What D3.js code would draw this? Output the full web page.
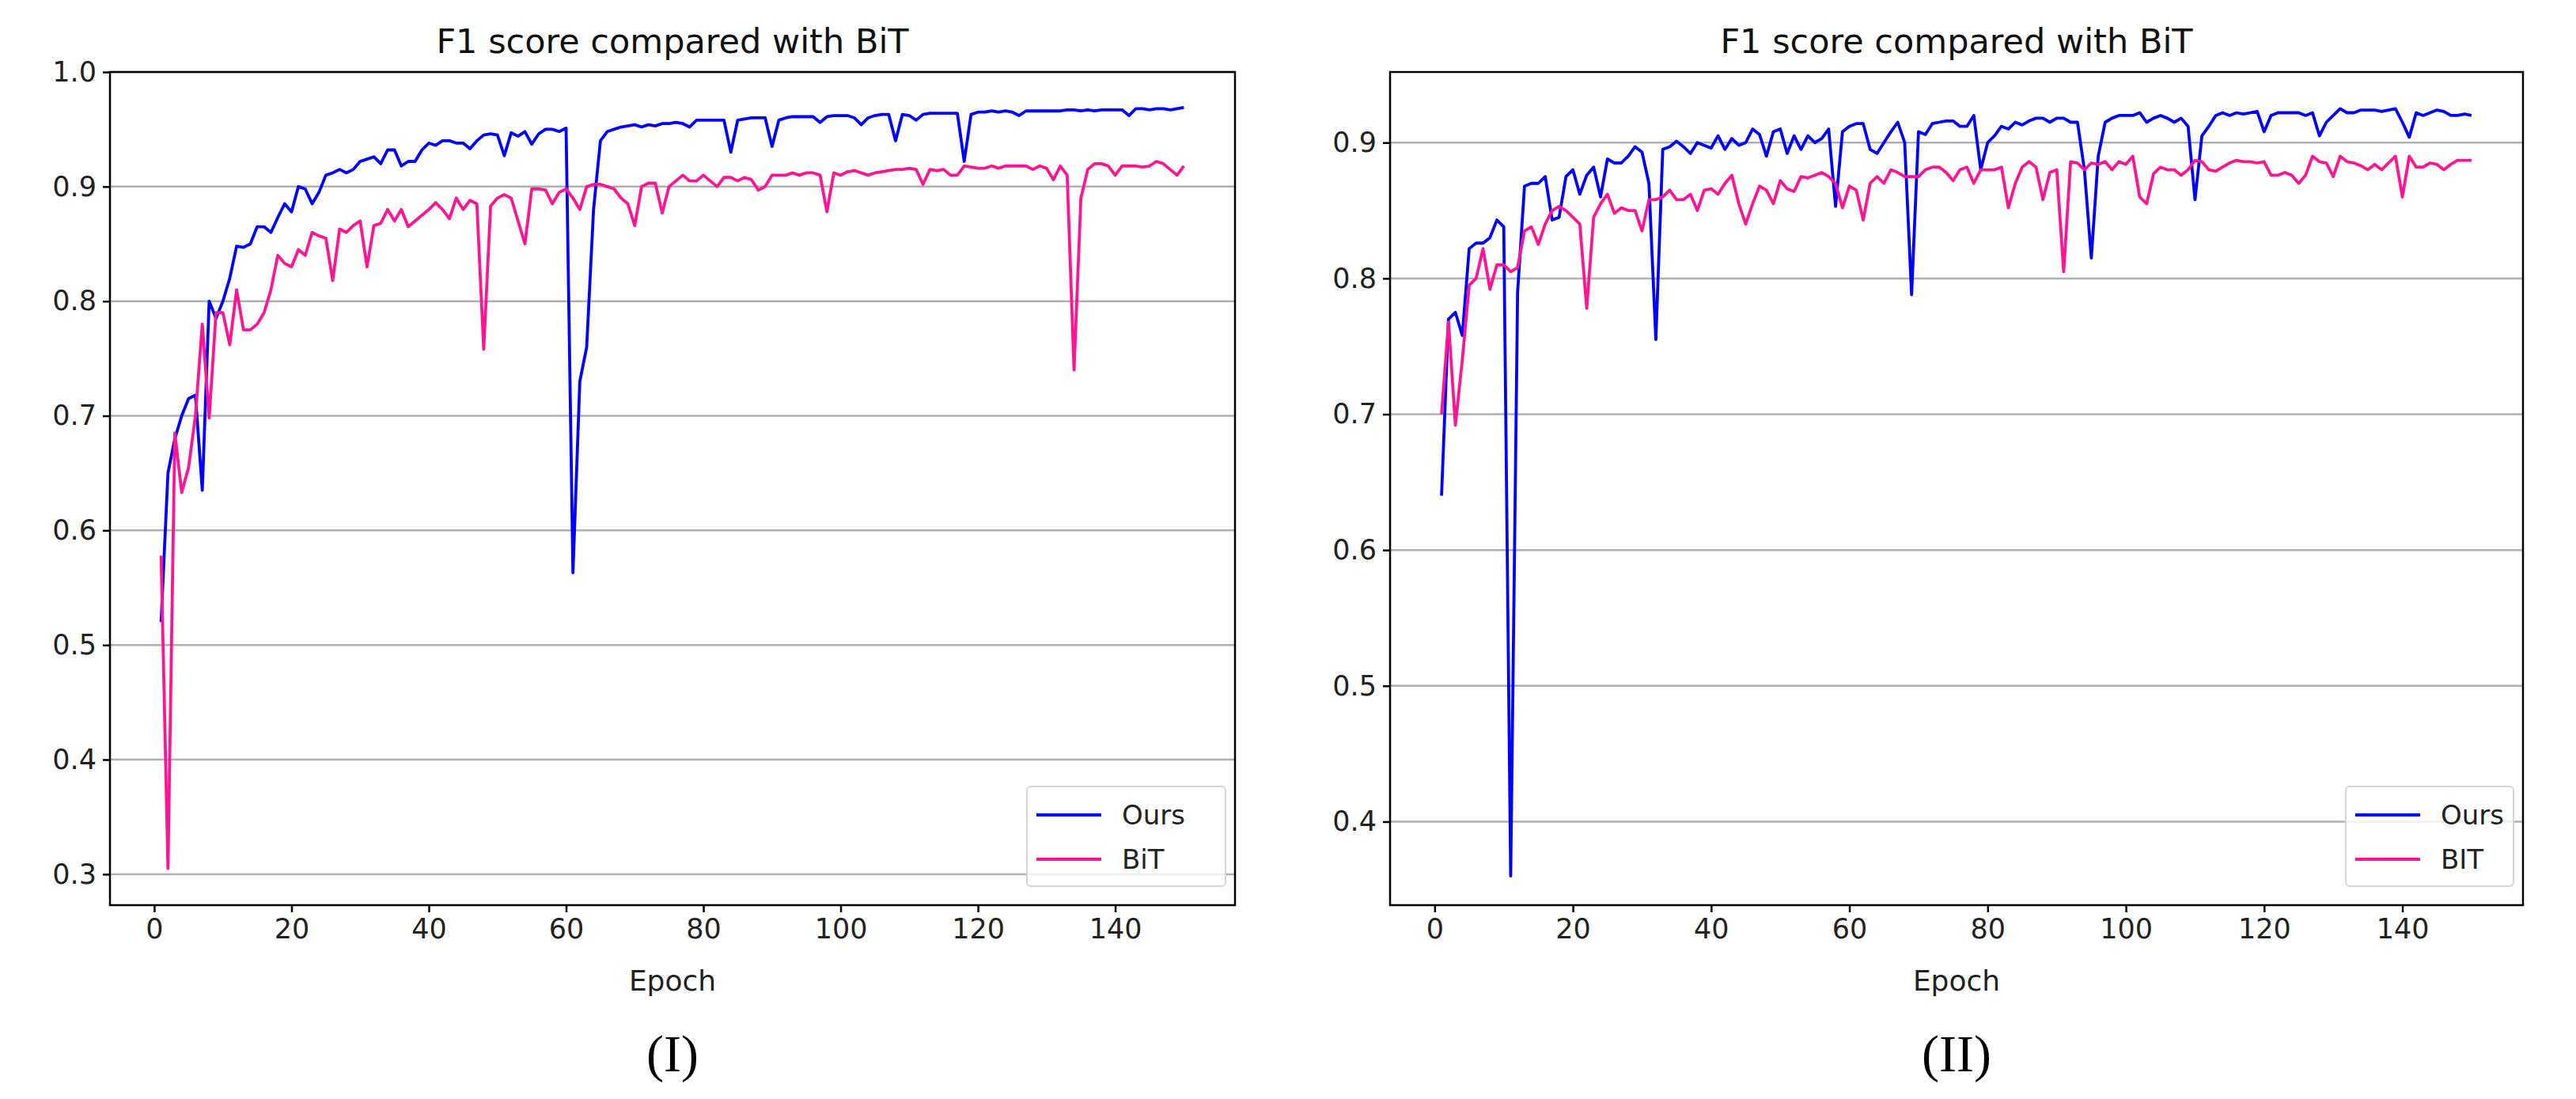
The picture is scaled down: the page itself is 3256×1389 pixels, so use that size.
<!DOCTYPE html>
<html><head><meta charset="utf-8">
<script src="https://cdn.jsdelivr.net/npm/d3@7"></script>
<style>body{margin:0;background:#fff}</style>
</head><body><svg id="c" width="3256" height="1389" font-family="DejaVu Sans"></svg>
<script>
const leftOurs=[.52,.65,.68,.70,.715,.718,.635,.80,.785,.80,.82,.848,.847,.85,.865,.865,.86,.873,.885,.878,.90,.898,.885,.895,.91,.912,.915,.912,.915,.922,.924,.926,.92,.932,.932,.918,.922,.922,.932,.938,.936,.94,.94,.938,.938,.933,.94,.945,.946,.945,.927,.947,.944,.948,.937,.946,.95,.95,.948,.951,.563,.73,.76,.88,.94,.948,.95,.952,.953,.954,.952,.954,.953,.955,.955,.956,.955,.952,.958,.958,.958,.958,.958,.93,.958,.959,.96,.96,.96,.935,.958,.96,.961,.961,.961,.961,.956,.961,.962,.962,.962,.96,.954,.96,.962,.963,.963,.94,.963,.962,.958,.963,.964,.964,.964,.964,.964,.922,.963,.965,.965,.966,.965,.966,.965,.962,.966,.966,.966,.966,.966,.966,.967,.967,.966,.967,.966,.967,.967,.967,.967,.962,.968,.968,.967,.968,.968,.967,.968,.969];
const leftBiT=[.578,.305,.685,.633,.655,.70,.78,.698,.79,.79,.762,.81,.775,.775,.78,.79,.81,.84,.833,.83,.845,.84,.86,.857,.855,.818,.863,.86,.866,.87,.83,.866,.868,.88,.87,.88,.865,.87,.875,.88,.886,.88,.872,.89,.88,.888,.885,.758,.883,.89,.893,.89,.87,.85,.898,.898,.897,.885,.895,.898,.89,.88,.9,.902,.902,.9,.898,.89,.885,.866,.9,.903,.903,.877,.9,.905,.91,.905,.905,.91,.905,.9,.908,.908,.905,.908,.906,.897,.9,.91,.91,.91,.912,.91,.912,.912,.91,.878,.912,.91,.913,.914,.912,.91,.912,.913,.914,.915,.915,.916,.915,.902,.915,.914,.915,.91,.91,.918,.917,.916,.916,.918,.916,.918,.918,.918,.918,.915,.918,.916,.906,.918,.91,.74,.89,.915,.92,.92,.918,.91,.918,.918,.918,.917,.918,.922,.92,.915,.91,.918];
const rightOurs=[.64,.77,.775,.758,.822,.826,.826,.83,.843,.838,.36,.79,.868,.87,.87,.875,.843,.845,.875,.88,.862,.876,.882,.86,.888,.885,.885,.89,.897,.893,.87,.755,.895,.897,.901,.897,.892,.9,.898,.896,.905,.895,.903,.898,.9,.91,.906,.89,.908,.91,.892,.905,.895,.905,.9,.903,.91,.853,.908,.912,.914,.914,.895,.892,.9,.908,.915,.9,.788,.908,.906,.914,.915,.916,.916,.912,.912,.92,.88,.9,.905,.912,.91,.915,.913,.916,.918,.918,.915,.918,.918,.915,.915,.88,.815,.89,.915,.918,.92,.92,.92,.922,.915,.918,.92,.918,.915,.918,.912,.858,.905,.912,.92,.922,.92,.922,.921,.922,.923,.908,.92,.922,.922,.922,.922,.92,.922,.905,.915,.92,.925,.922,.922,.924,.924,.924,.923,.924,.925,.915,.904,.922,.92,.922,.924,.923,.92,.92,.921,.92];
const rightBiT=[.70,.768,.692,.74,.795,.8,.822,.792,.81,.81,.805,.808,.835,.838,.825,.84,.85,.853,.85,.845,.84,.778,.845,.855,.862,.848,.852,.85,.85,.835,.858,.858,.86,.865,.858,.858,.862,.85,.865,.866,.862,.87,.876,.855,.84,.855,.868,.865,.855,.872,.866,.864,.875,.874,.876,.878,.875,.87,.852,.868,.865,.843,.87,.875,.87,.88,.878,.875,.875,.875,.88,.882,.882,.878,.872,.88,.882,.87,.88,.88,.88,.882,.852,.87,.882,.886,.882,.858,.878,.88,.805,.886,.885,.88,.885,.884,.886,.88,.886,.884,.89,.86,.855,.877,.882,.88,.88,.876,.88,.887,.886,.88,.879,.882,.885,.887,.886,.886,.885,.886,.876,.876,.878,.876,.87,.876,.89,.886,.885,.875,.89,.886,.885,.883,.88,.884,.88,.885,.89,.86,.89,.882,.882,.885,.884,.88,.884,.887,.887,.887];
const xTicks=[0,20,40,60,80,100,120,140];
const leftYTicks=[0.3,0.4,0.5,0.6,0.7,0.8,0.9,1.0];
const rightYTicks=[0.4,0.5,0.6,0.7,0.8,0.9];
const titles=["F1 score compared with BiT","F1 score compared with BiT"];
const legendLabels=[["Ours","BiT"],["Ours","BIT"]];
const captions=["(I)","(II)"];
const colors=["#0000ff","#ff1493"];

const svg=d3.select("#c");
function panel(x0,x1,y0,y1,ydom,yt,s1,s2,title,leg,cap,lx){
  const x=d3.scaleLinear().domain([-6.45,157.45]).range([x0,x1]);
  const y=d3.scaleLinear().domain(ydom).range([y1,y0]);
  const g=svg.append("g");
  g.selectAll(".gl").data(yt).join("line").attr("x1",x0).attr("x2",x1)
    .attr("y1",d=>y(d)).attr("y2",d=>y(d)).attr("stroke","#b0b0b0").attr("stroke-width",2.5);
  const line=d3.line().x((d,i)=>x(i+1)).y(d=>y(d));
  [s1,s2].forEach((s,k)=>g.append("path").datum(s).attr("d",line).attr("fill","none")
    .attr("stroke",colors[k]).attr("stroke-width",3.8).attr("stroke-linejoin","round"));
  g.append("rect").attr("x",x0).attr("y",y0).attr("width",x1-x0).attr("height",y1-y0)
    .attr("fill","none").attr("stroke","#000").attr("stroke-width",2.5);
  const xa=g.append("g").attr("transform",`translate(0,${y1})`).call(d3.axisBottom(x).tickValues(xTicks).tickSize(9).tickPadding(8).tickFormat(d3.format("d")));
  const ya=g.append("g").attr("transform",`translate(${x0},0)`).call(d3.axisLeft(y).tickValues(yt).tickSize(9).tickPadding(8).tickFormat(d3.format(".1f")));
  [xa,ya].forEach(a=>{a.select(".domain").remove();a.selectAll("line").attr("stroke","#000").attr("stroke-width",2.5);
    a.selectAll("text").attr("font-size",35).attr("fill","#222").attr("font-family","DejaVu Sans");});
  g.append("text").attr("x",(x0+x1)/2).attr("y",y0-24).attr("text-anchor","middle").attr("font-size",43).attr("fill","#111").text(title);
  g.append("text").attr("x",(x0+x1)/2).attr("y",y1+108).attr("text-anchor","middle").attr("font-size",36).attr("fill","#222").text("Epoch");
  g.append("text").attr("x",(x0+x1)/2).attr("y",y1+210).attr("text-anchor","middle").attr("font-size",66)
    .attr("font-family","Liberation Serif").text(cap);
  const lg=g.append("g").attr("transform",`translate(${lx},${y1-150})`);
  lg.append("rect").attr("width",x1-lx-12).attr("height",126).attr("rx",5).attr("fill","#fff").attr("fill-opacity",0.8).attr("stroke","#d5d5d5").attr("stroke-width",2);
  leg.forEach((t,k)=>{const yy=36+k*56;
    lg.append("line").attr("x1",12).attr("x2",94).attr("y1",yy).attr("y2",yy).attr("stroke",colors[k]).attr("stroke-width",4);
    lg.append("text").attr("x",120).attr("y",yy+12).attr("font-size",34).attr("fill","#222").text(t);});
}
panel(139,1561,91,1144,[0.273,1.0],leftYTicks,leftOurs,leftBiT,titles[0],legendLabels[0],captions[0],1298);
panel(1757,3189,91,1144,[0.3385,0.952],rightYTicks,rightOurs,rightBiT,titles[1],legendLabels[1],captions[1],2965);
</script></body></html>
